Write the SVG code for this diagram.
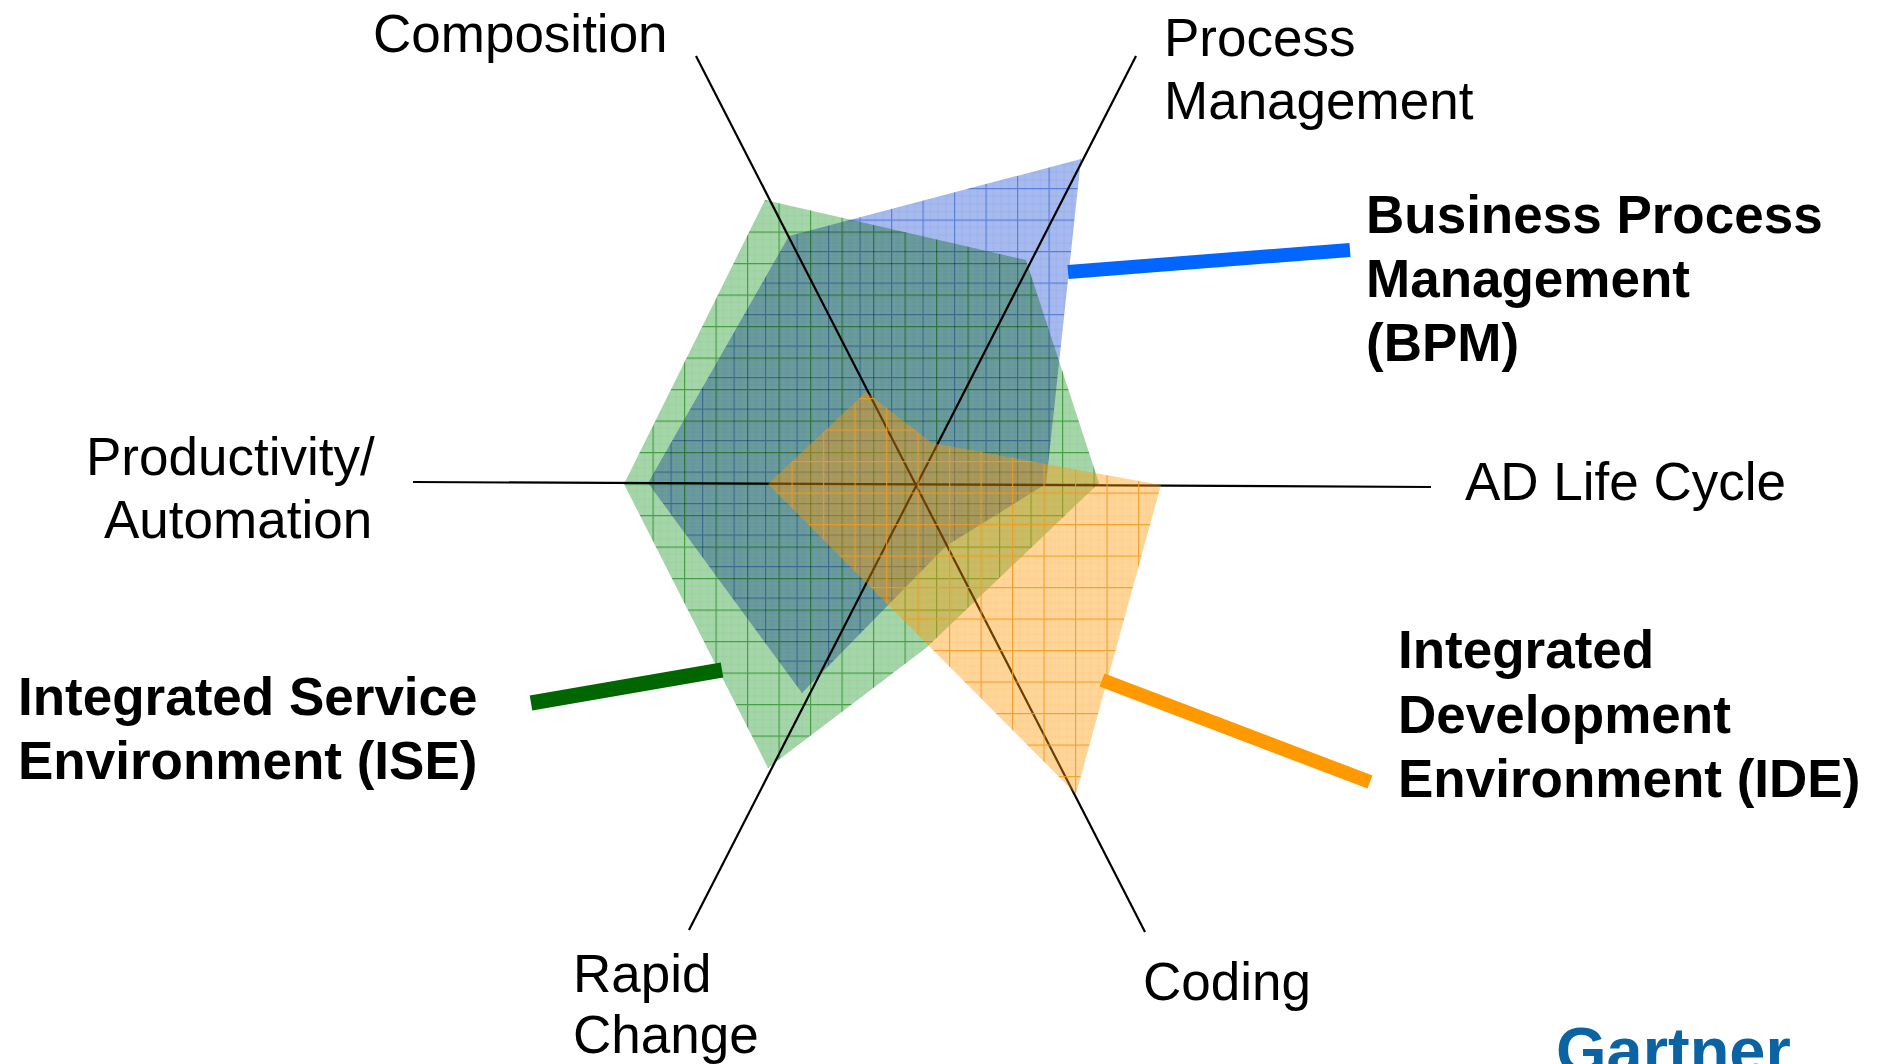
<svg xmlns="http://www.w3.org/2000/svg" width="1879" height="1064" viewBox="0 0 1879 1064">
<style>
  .lbl { font-family: "Liberation Sans", Arial, Helvetica, sans-serif; font-size: 53px; fill: #000; }
  .bold { font-weight: bold; }
  .axis { stroke: #000; stroke-width: 2.2; fill: none; }
  .series { mix-blend-mode: multiply; }
  .bar { fill: none; stroke-linecap: butt; }
</style>
<defs>
  <pattern id="pGreen" patternUnits="userSpaceOnUse" x="22.5" y="11" width="31.5" height="31.5">
    <rect width="31.5" height="31.5" fill="#a5d6aa"/>
    <path d="M7.9 0V31.5M15.75 0V31.5M23.6 0V31.5M0 7.9H31.5M0 15.75H31.5M0 23.6H31.5" stroke="#9cd09e" stroke-width="1"/>
    <path d="M0.6 0V31.5M0 0.6H31.5" stroke="#46a044" stroke-width="1.2"/>
  </pattern>
  <pattern id="pBlue" patternUnits="userSpaceOnUse" x="9" y="30.5" width="31.5" height="31.5">
    <rect width="31.5" height="31.5" fill="#a6baef"/>
    <path d="M7.9 0V31.5M15.75 0V31.5M23.6 0V31.5M0 7.9H31.5M0 15.75H31.5M0 23.6H31.5" stroke="#9cb1ea" stroke-width="1"/>
    <path d="M0.6 0V31.5M0 0.6H31.5" stroke="#5a80d8" stroke-width="1.2"/>
  </pattern>
  <pattern id="pOrange" patternUnits="userSpaceOnUse" x="4" y="20" width="31.5" height="31.5">
    <rect width="31.5" height="31.5" fill="#ff9602" fill-opacity="0.4"/>
    <path d="M7.9 0V31.5M15.75 0V31.5M23.6 0V31.5M0 7.9H31.5M0 15.75H31.5M0 23.6H31.5" stroke="#ff9602" stroke-opacity="0.1" stroke-width="1"/>
    <path d="M0.6 0V31.5M0 0.6H31.5" stroke="#f09a1e" stroke-opacity="0.85" stroke-width="1.2"/>
  </pattern>
</defs>
<rect x="0" y="0" width="1879" height="1064" fill="#ffffff"/>

<g id="axes">
  <line class="axis" x1="413" y1="482" x2="1431" y2="487"/>
  <line class="axis" x1="696" y1="56" x2="1145" y2="932"/>
  <line class="axis" x1="1136" y1="56" x2="689" y2="930"/>
</g>

<g id="series-ise" class="series">
  <polygon points="765,200 1026,260 1099,483 926,648 768,768 624,484" fill="url(#pGreen)"/>
</g>
<g id="series-bpm" class="series">
  <polygon points="789,236 1081,159 1046,484 946,546 802,693 648,483" fill="url(#pBlue)"/>
</g>
<g id="series-ide">
  <polygon points="866,392 932,443 1161,485 1076,794 768,484" fill="url(#pOrange)"/>
</g>

<g id="connectors">
  <line class="bar" x1="1068" y1="272" x2="1350" y2="250" stroke="#0066ff" stroke-width="14"/>
  <line class="bar" x1="531" y1="703" x2="722" y2="670" stroke="#006600" stroke-width="15"/>
  <line class="bar" x1="1102" y1="680" x2="1370" y2="782" stroke="#ff9900" stroke-width="14"/>
</g>

<g id="axis-labels">
  <text class="lbl" x="373" y="52">Composition</text>
  <text class="lbl" x="1164" y="56">Process</text>
  <text class="lbl" x="1164" y="119">Management</text>
  <text class="lbl" x="1465" y="500">AD Life Cycle</text>
  <text class="lbl" x="86" y="475">Productivity/</text>
  <text class="lbl" x="104" y="538">Automation</text>
  <text class="lbl" x="573" y="992">Rapid</text>
  <text class="lbl" x="573" y="1053">Change</text>
  <text class="lbl" x="1143" y="1000">Coding</text>
</g>

<g id="legend-bpm">
  <text class="lbl bold" x="1366" y="233">Business Process</text>
  <text class="lbl bold" x="1366" y="297">Management</text>
  <text class="lbl bold" x="1366" y="361">(BPM)</text>
</g>
<g id="legend-ise">
  <text class="lbl bold" x="18" y="715">Integrated Service</text>
  <text class="lbl bold" x="18" y="779">Environment (ISE)</text>
</g>
<g id="legend-ide">
  <text class="lbl bold" x="1398" y="668">Integrated</text>
  <text class="lbl bold" x="1398" y="733">Development</text>
  <text class="lbl bold" x="1398" y="797">Environment (IDE)</text>
</g>

<g id="logo">
  <text x="1556" y="1073" font-family="'Liberation Sans', Arial, sans-serif" font-weight="bold" font-size="65" fill="#0b63a3">Gartner</text>
</g>
</svg>
